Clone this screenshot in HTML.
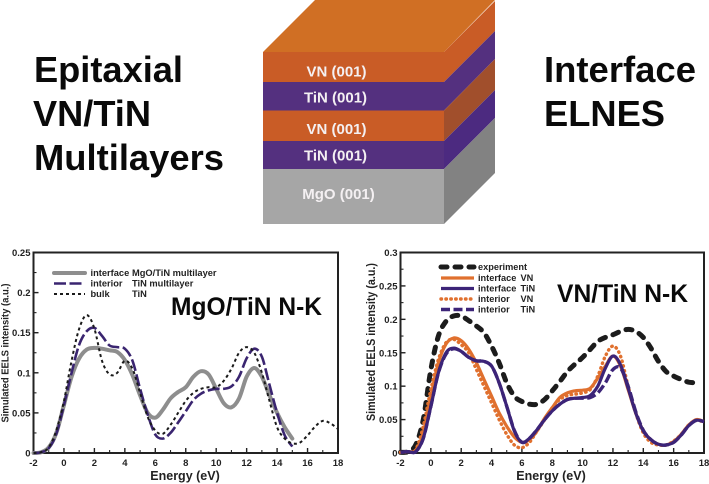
<!DOCTYPE html>
<html lang="en">
<head>
<meta charset="utf-8">
<title>Epitaxial VN/TiN Multilayers</title>
<style>
html,body{margin:0;padding:0;background:#fff;width:709px;height:484px;overflow:hidden}
svg{display:block;font-family:"Liberation Sans",sans-serif;filter:blur(0.35px)}
text{font-weight:bold}
</style>
</head>
<body>
<svg id="fig" xmlns="http://www.w3.org/2000/svg" width="709" height="484" viewBox="0 0 709 484">
  <g font-size="36" fill="#0a0a0a">
    <text x="34" y="82" textLength="149" lengthAdjust="spacingAndGlyphs">Epitaxial</text>
    <text x="33" y="126" textLength="118" lengthAdjust="spacingAndGlyphs">VN/TiN</text>
    <text x="34" y="170" textLength="190" lengthAdjust="spacingAndGlyphs">Multilayers</text>
  </g>
  <g font-size="36" fill="#0a0a0a">
    <text x="544" y="82" textLength="152" lengthAdjust="spacingAndGlyphs">Interface</text>
    <text x="544" y="126" textLength="121" lengthAdjust="spacingAndGlyphs">ELNES</text>
  </g>

  <g>
    <polygon points="263,52 315,0 495,0 444,52" fill="#d06f24"/>
    <polygon points="444,52 495,1 495,31 444,82" fill="#c95c26"/>
    <polygon points="444,82 495,31 495,59 444,110.5" fill="#54307f"/>
    <polygon points="444,110.5 495,59 495,90 444,141" fill="#a14f2c"/>
    <polygon points="444,141 495,90 495,118 444,169" fill="#4c2a80"/>
    <polygon points="444,169 495,118 495,173 444,224" fill="#828282"/>
    <rect x="263" y="52" width="181" height="30" fill="#c95c26"/>
    <rect x="263" y="82" width="181" height="28.5" fill="#54307f"/>
    <rect x="263" y="110.5" width="181" height="30.5" fill="#c95c26"/>
    <rect x="263" y="141" width="181" height="28" fill="#54307f"/>
    <rect x="263" y="169" width="181" height="55" fill="#a6a6a6"/>
    <g font-size="15" fill="#f4f0f2" text-anchor="middle">
      <text x="336.5" y="76.5">VN (001)</text>
      <text x="335.5" y="102.5">TiN (001)</text>
      <text x="336.5" y="134">VN (001)</text>
      <text x="335.5" y="160.5">TiN (001)</text>
      <text x="338.5" y="199">MgO (001)</text>
    </g>
  </g>
  <g id="chartL"></g>
  <g id="chartR"></g>
</svg>
<script>
// Shared energy axis (eV); series may be shorter when they stop before 18 eV
const energies = [-2,-1.5,-1,-0.5,0,0.5,1,1.5,2,2.5,3,3.5,4,4.5,5,5.5,6,6.5,7,7.5,8,8.5,9,9.5,10,10.5,11,11.5,12,12.5,13,13.5,14,14.5,15,15.5,16,16.5,17,17.5,18];
const energyTicks = [-2,0,2,4,6,8,10,12,14,16,18];
const leftIntensityTicks = ['0','0.05','0.1','0.15','0.2','0.25'];
const rightIntensityTicks = ['0','0.05','0.1','0.15','0.2','0.25','0.3'];

// Left chart: MgO/TiN N-K
const mgoInterface = [0,0.001,0.007,0.025,0.06,0.095,0.118,0.129,0.131,0.13,0.128,0.126,0.116,0.097,0.072,0.05,0.044,0.054,0.068,0.076,0.082,0.095,0.102,0.098,0.08,0.062,0.057,0.068,0.095,0.106,0.095,0.072,0.05,0.032,0.018];
const mgoInterior = [0,0.001,0.006,0.024,0.06,0.1,0.135,0.152,0.156,0.146,0.134,0.132,0.13,0.115,0.08,0.048,0.023,0.018,0.025,0.038,0.052,0.066,0.074,0.078,0.08,0.08,0.083,0.095,0.118,0.13,0.12,0.085,0.05,0.022,0.008];
const mgoBulk = [0,0.001,0.007,0.028,0.065,0.115,0.155,0.172,0.155,0.115,0.098,0.1,0.115,0.105,0.075,0.045,0.028,0.024,0.035,0.05,0.065,0.075,0.08,0.082,0.082,0.09,0.105,0.125,0.132,0.125,0.1,0.065,0.032,0.018,0.012,0.013,0.022,0.033,0.04,0.037,0.03];

// Right chart: VN/TiN N-K
const experiment = [0.001,0.002,0.012,0.05,0.125,0.175,0.197,0.205,0.205,0.198,0.19,0.18,0.16,0.135,0.105,0.085,0.077,0.073,0.073,0.08,0.093,0.107,0.122,0.133,0.143,0.155,0.167,0.173,0.177,0.182,0.185,0.182,0.173,0.157,0.137,0.122,0.115,0.11,0.106,0.105];
const interfaceVN = [0.001,0.002,0.004,0.03,0.085,0.135,0.163,0.172,0.168,0.155,0.135,0.11,0.085,0.06,0.04,0.024,0.016,0.02,0.033,0.052,0.068,0.083,0.09,0.093,0.094,0.097,0.112,0.13,0.145,0.13,0.095,0.06,0.033,0.02,0.013,0.012,0.017,0.028,0.042,0.05,0.047];
const interfaceTiN = [0.001,0.002,0.002,0.022,0.07,0.12,0.15,0.157,0.152,0.143,0.138,0.137,0.13,0.105,0.07,0.033,0.016,0.022,0.035,0.05,0.063,0.073,0.08,0.082,0.083,0.086,0.1,0.127,0.145,0.132,0.097,0.06,0.033,0.02,0.013,0.012,0.016,0.027,0.041,0.049,0.047];
const interiorVN = [0.001,0.002,0.005,0.04,0.095,0.14,0.165,0.17,0.162,0.15,0.125,0.1,0.075,0.05,0.028,0.012,0.008,0.016,0.033,0.05,0.068,0.08,0.086,0.088,0.09,0.095,0.115,0.145,0.16,0.145,0.1,0.06,0.03,0.016,0.012,0.012,0.018,0.028,0.042,0.049,0.046];
const interiorTiN = [0.001,0.002,0.002,0.022,0.07,0.12,0.148,0.156,0.152,0.143,0.138,0.137,0.13,0.105,0.07,0.034,0.016,0.022,0.035,0.05,0.063,0.073,0.08,0.082,0.082,0.083,0.09,0.105,0.125,0.127,0.1,0.062,0.034,0.02,0.013,0.012,0.016,0.027,0.041,0.049,0.047];

const SVG_NS = 'http://www.w3.org/2000/svg';

function makeAxes(box, yMax) {
  return {
    x: function (e) { return box.left + (e + 2) / 20 * (box.right - box.left); },
    y: function (v) { return box.bottom - v / yMax * (box.bottom - box.top); }
  };
}

function smoothPath(xs, ys, ax) {
  const pts = ys.map(function (v, i) { return [ax.x(xs[i]), ax.y(v)]; });
  let d = 'M' + pts[0][0].toFixed(1) + ' ' + pts[0][1].toFixed(1);
  for (let i = 0; i < pts.length - 1; i++) {
    const p0 = pts[Math.max(i - 1, 0)], p1 = pts[i], p2 = pts[i + 1], p3 = pts[Math.min(i + 2, pts.length - 1)];
    d += 'C' + (p1[0] + (p2[0] - p0[0]) / 6).toFixed(1) + ' ' + (p1[1] + (p2[1] - p0[1]) / 6).toFixed(1) +
         ' ' + (p2[0] - (p3[0] - p1[0]) / 6).toFixed(1) + ' ' + (p2[1] - (p3[1] - p1[1]) / 6).toFixed(1) +
         ' ' + p2[0].toFixed(1) + ' ' + p2[1].toFixed(1);
  }
  return d;
}

function addShape(parent, tag, props) {
  const el = document.createElementNS(SVG_NS, tag);
  Object.keys(props).forEach(function (k) { el.setAttribute(k, props[k]); });
  parent.appendChild(el);
  return el;
}

function drawFrame(root, box, ax, yLabels, yStep, labelCfg) {
  const frame = addShape(root, 'rect', {x: box.left, y: box.top, width: box.right - box.left, height: box.bottom - box.top, fill: '#fff', stroke: '#222', 'stroke-width': 2});
  
  

  energyTicks.forEach(function (e, i) {
    const tick = addShape(root, 'line', {x1: ax.x(e), x2: ax.x(e), y1: box.bottom, y2: box.bottom - 5, stroke: '#222', 'stroke-width': 1.4});
    
    
    if (i < energyTicks.length - 1) {
      const minor = addShape(root, 'line', {x1: ax.x(e + 1), x2: ax.x(e + 1), y1: box.bottom, y2: box.bottom - 3, stroke: '#222', 'stroke-width': 1.1});
      
      
    }
    const label = addShape(root, 'text', {x: ax.x(e), y: box.bottom + 13, 'text-anchor': 'middle', 'font-size': 9.5, fill: '#222'});
    label.textContent = String(e);
    
    
  });

  yLabels.forEach(function (t, i) {
    const v = i * yStep;
    const tick = addShape(root, 'line', {x1: box.left, x2: box.left + 5, y1: ax.y(v), y2: ax.y(v), stroke: '#222', 'stroke-width': 1.4});
    
    
    if (i < yLabels.length - 1) {
      const minor = addShape(root, 'line', {x1: box.left, x2: box.left + 3, y1: ax.y(v + yStep / 2), y2: ax.y(v + yStep / 2), stroke: '#222', 'stroke-width': 1.1});
      
      
    }
    const label = addShape(root, 'text', {x: box.left - 3, y: ax.y(v) + 3.5, 'text-anchor': 'end', 'font-size': 9.5, fill: '#222'});
    label.textContent = t;
    
    
  });

  const xTitle = addShape(root, 'text', {x: labelCfg.xTitleX, y: 480, 'text-anchor': 'middle', 'font-size': 12.5, fill: '#222'});
  xTitle.textContent = 'Energy (eV)';
  
  

  const yTitle = addShape(root, 'text', {
    transform: 'translate(' + labelCfg.yTitleX + ' ' + labelCfg.yTitleY + ') rotate(-90)',
    'text-anchor': 'middle', 'font-size': labelCfg.yTitleSize, fill: '#222',
    textLength: labelCfg.yTitleLen, lengthAdjust: 'spacingAndGlyphs'
  });
  yTitle.textContent = 'Simulated EELS intensity (a.u.)';
  
  
}

function drawSeries(root, ax, values, style, name) {
  const props = Object.assign({d: smoothPath(energies, values, ax), fill: 'none', 'stroke-linejoin': 'round'}, style);
  const line = addShape(root, 'path', props);
  
  
}

function drawLegendEntry(root, lx1, lx2, ly, style, labelA, labelAx, labelB, labelBx, fs, name) {
  const entry = addShape(root, 'g', {});
  
  
  addShape(entry, 'line', Object.assign({x1: lx1, x2: lx2, y1: ly, y2: ly}, style));
  const a = addShape(entry, 'text', {x: labelAx, y: ly + 3.2, 'font-size': fs, fill: '#222'});
  a.textContent = labelA;
  const b = addShape(entry, 'text', {x: labelBx, y: ly + 3.2, 'font-size': fs, fill: '#222'});
  b.textContent = labelB;
}

function addTitle(root, text, x, y, len, name) {
  const t = addShape(root, 'text', {x: x, y: y, 'font-size': 25, fill: '#0a0a0a', textLength: len, lengthAdjust: 'spacingAndGlyphs'});
  t.textContent = text;
  
  
}

// ---- Left chart ----
const boxL = {left: 33.5, right: 338, top: 252.5, bottom: 453};
const axL = makeAxes(boxL, 0.25);
const rootL = document.getElementById('chartL');
drawFrame(rootL, boxL, axL, leftIntensityTicks, 0.05, {xTitleX: 185, yTitleX: 8.5, yTitleY: 353, yTitleLen: 139, yTitleSize: 10.5});

const grayStyle = {stroke: '#8e8e8e', 'stroke-width': 4, 'stroke-linecap': 'round'};
const longDash = {stroke: '#3a2570', 'stroke-width': 2.6, 'stroke-dasharray': '12 3.5'};
const dotStyle = {stroke: '#1a1a1a', 'stroke-width': 2, 'stroke-dasharray': '3 3'};
drawSeries(rootL, axL, mgoInterface, grayStyle, 'series-interface-mgo-tin');
drawSeries(rootL, axL, mgoInterior, longDash, 'series-interior-tin');
drawSeries(rootL, axL, mgoBulk, dotStyle, 'series-bulk-tin');

drawLegendEntry(rootL, 54, 85, 273, grayStyle, 'interface', 90.5, 'MgO/TiN multilayer', 132, 9.3, 'legend-interface');
drawLegendEntry(rootL, 54, 85, 283.5, longDash, 'interior', 90.5, 'TiN multilayer', 132, 9.3, 'legend-interior');
drawLegendEntry(rootL, 54, 85, 294, dotStyle, 'bulk', 90.5, 'TiN', 132, 9.3, 'legend-bulk');
addTitle(rootL, 'MgO/TiN N-K', 171, 315, 151, 'chart-title-mgo-tin');

// ---- Right chart ----
const boxR = {left: 400.5, right: 704, top: 252.5, bottom: 453};
const axR = makeAxes(boxR, 0.3);
const rootR = document.getElementById('chartR');
drawFrame(rootR, boxR, axR, rightIntensityTicks, 0.05, {xTitleX: 551, yTitleX: 375, yTitleY: 342, yTitleLen: 158, yTitleSize: 11.5});

const expStyle = {stroke: '#1c1c1c', 'stroke-width': 5, 'stroke-dasharray': '6 8', 'stroke-linecap': 'round'};
const vnSolid = {stroke: '#e0702e', 'stroke-width': 3.2};
const tinSolid = {stroke: '#3c2478', 'stroke-width': 3.2};
const vnDots = {stroke: '#e0702e', 'stroke-width': 3.4, 'stroke-dasharray': '0.5 4.4', 'stroke-linecap': 'round'};
const tinDash = {stroke: '#3c2478', 'stroke-width': 3.4, 'stroke-dasharray': '9 3.5'};
drawSeries(rootR, axR, experiment, expStyle, 'series-experiment');
drawSeries(rootR, axR, interiorVN, vnDots, 'series-interior-vn');
drawSeries(rootR, axR, interfaceVN, vnSolid, 'series-interface-vn');
drawSeries(rootR, axR, interfaceTiN, tinSolid, 'series-interface-tin');
drawSeries(rootR, axR, interiorTiN, tinDash, 'series-interior-tin-dashed');

drawLegendEntry(rootR, 441, 474, 267, expStyle, 'experiment', 478, '', 520, 9.2, 'legend-experiment');
drawLegendEntry(rootR, 441, 474, 278, vnSolid, 'interface', 478, 'VN', 520.5, 9.2, 'legend-interface-vn');
drawLegendEntry(rootR, 441, 474, 288.5, tinSolid, 'interface', 478, 'TiN', 520.5, 9.2, 'legend-interface-tin');
drawLegendEntry(rootR, 441, 474, 299, vnDots, 'interior', 478, 'VN', 520.5, 9.2, 'legend-interior-vn');
drawLegendEntry(rootR, 441, 474, 309.5, tinDash, 'interior', 478, 'TiN', 520.5, 9.2, 'legend-interior-tin');
addTitle(rootR, 'VN/TiN N-K', 557, 302, 131, 'chart-title-vn-tin');
</script>
</body>
</html>
